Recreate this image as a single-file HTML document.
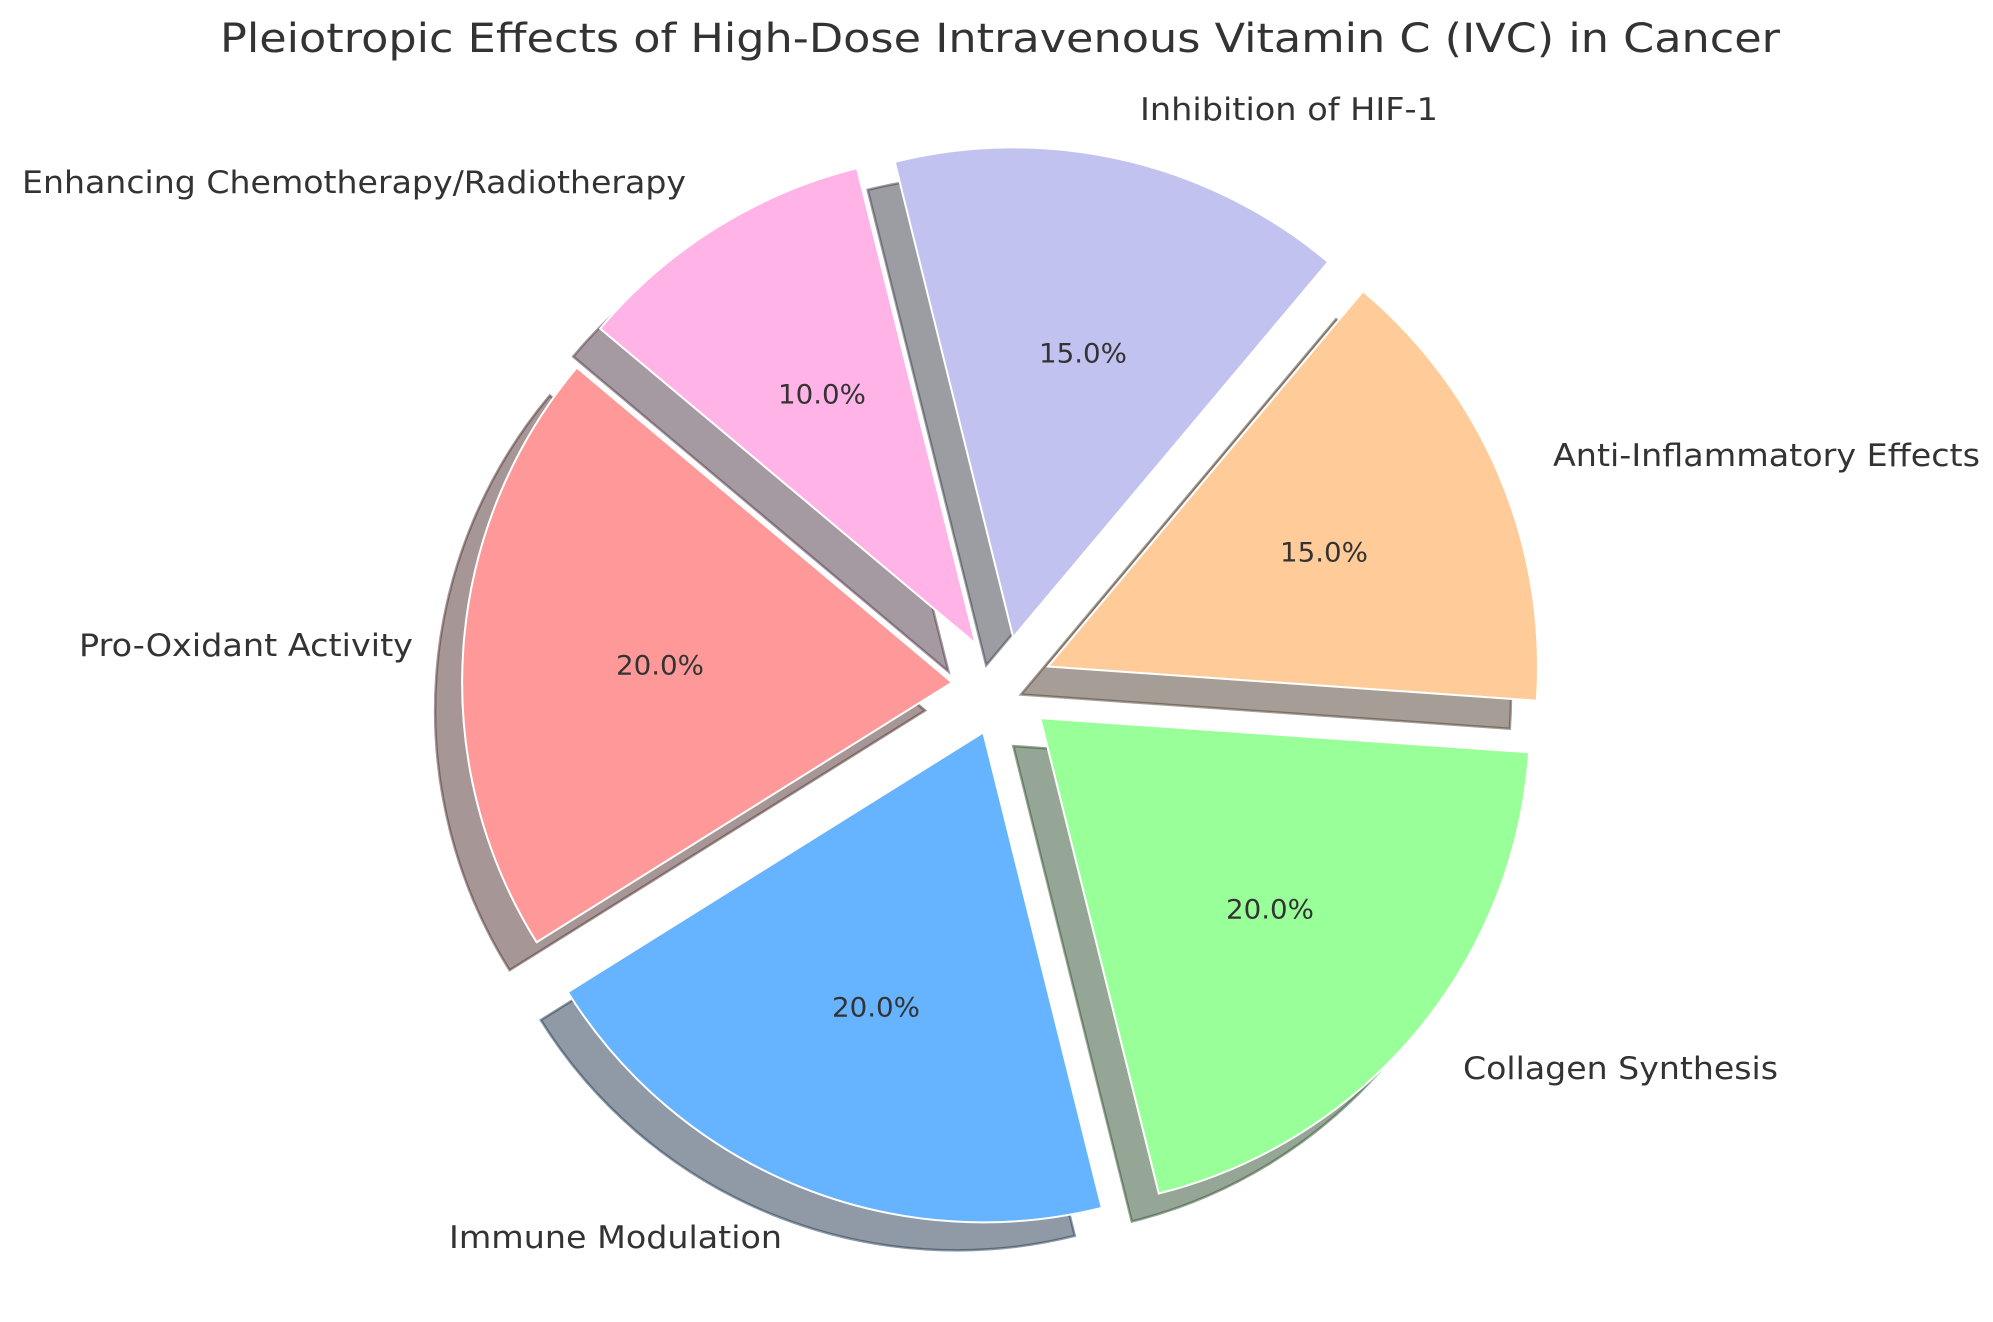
<!DOCTYPE html>
<html><head><meta charset="utf-8"><style>
html,body{margin:0;padding:0;background:#fff;}
svg{display:block;}
text{font-family:"DejaVu Sans","Liberation Sans",sans-serif;fill:#333;}
</style></head><body>
<svg width="1993" height="1322" viewBox="0 0 1993 1322" xmlns="http://www.w3.org/2000/svg">
<rect width="1993" height="1322" fill="#fff"/>
<g transform="translate(-27,28)" stroke-width="2.5">
<path d="M952.1,682.5 L576.8,367.5 A490,490 0 0 0 536.6,942.2 Z" fill="rgb(77,46,46)" fill-opacity="0.5" stroke="rgb(77,46,46)" stroke-opacity="0.5"/>
<path d="M983.3,732.4 L567.8,992.1 A490,490 0 0 0 1101.8,1207.8 Z" fill="rgb(31,54,77)" fill-opacity="0.5" stroke="rgb(31,54,77)" stroke-opacity="0.5"/>
<path d="M1040.3,718.1 L1158.8,1193.5 A490,490 0 0 0 1529.1,752.3 Z" fill="rgb(46,77,46)" fill-opacity="0.5" stroke="rgb(46,77,46)" stroke-opacity="0.5"/>
<path d="M1048,666.5 L1536.8,700.7 A490,490 0 0 0 1363,291.2 Z" fill="rgb(77,61,46)" fill-opacity="0.5" stroke="rgb(77,61,46)" stroke-opacity="0.5"/>
<path d="M1013.2,637.3 L1328.2,262 A490,490 0 0 0 894.7,161.9 Z" fill="rgb(58,58,72)" fill-opacity="0.5" stroke="rgb(58,58,72)" stroke-opacity="0.5"/>
<path d="M975.5,643.6 L857,168.2 A490,490 0 0 0 600.2,328.6 Z" fill="rgb(77,54,69)" fill-opacity="0.5" stroke="rgb(77,54,69)" stroke-opacity="0.5"/>
</g>
<g stroke="#fff" stroke-width="2">
<path d="M952.1,682.5 L576.8,367.5 A490,490 0 0 0 536.6,942.2 Z" fill="#ff9999"/>
<path d="M983.3,732.4 L567.8,992.1 A490,490 0 0 0 1101.8,1207.8 Z" fill="#66b3ff"/>
<path d="M1040.3,718.1 L1158.8,1193.5 A490,490 0 0 0 1529.1,752.3 Z" fill="#99ff99"/>
<path d="M1048,666.5 L1536.8,700.7 A490,490 0 0 0 1363,291.2 Z" fill="#ffcc99"/>
<path d="M1013.2,637.3 L1328.2,262 A490,490 0 0 0 894.7,161.9 Z" fill="#c2c2f0"/>
<path d="M975.5,643.6 L857,168.2 A490,490 0 0 0 600.2,328.6 Z" fill="#ffb3e6"/>
</g>
<text x="1000" y="52" text-anchor="middle" font-size="40" textLength="1560" lengthAdjust="spacingAndGlyphs">Pleiotropic Effects of High-Dose Intravenous Vitamin C (IVC) in Cancer</text>
<g font-size="31" dominant-baseline="central">
<text x="413" y="646" text-anchor="end" textLength="334" lengthAdjust="spacingAndGlyphs">Pro-Oxidant Activity</text>
<text x="782" y="1238" text-anchor="end" textLength="333" lengthAdjust="spacingAndGlyphs">Immune Modulation</text>
<text x="1463" y="1069" text-anchor="start" textLength="315" lengthAdjust="spacingAndGlyphs">Collagen Synthesis</text>
<text x="1553" y="456" text-anchor="start" textLength="427" lengthAdjust="spacingAndGlyphs">Anti-Inflammatory Effects</text>
<text x="1140" y="110" text-anchor="start" textLength="298" lengthAdjust="spacingAndGlyphs">Inhibition of HIF-1</text>
<text x="686" y="183" text-anchor="end" textLength="664" lengthAdjust="spacingAndGlyphs">Enhancing Chemotherapy/Radiotherapy</text>
</g>
<g font-size="27" text-anchor="middle" dominant-baseline="central">
<text x="660" y="666" textLength="88" lengthAdjust="spacingAndGlyphs">20.0%</text>
<text x="876" y="1008" textLength="88" lengthAdjust="spacingAndGlyphs">20.0%</text>
<text x="1270" y="910" textLength="88" lengthAdjust="spacingAndGlyphs">20.0%</text>
<text x="1324" y="553" textLength="88" lengthAdjust="spacingAndGlyphs">15.0%</text>
<text x="1083" y="354" textLength="88" lengthAdjust="spacingAndGlyphs">15.0%</text>
<text x="822" y="395" textLength="88" lengthAdjust="spacingAndGlyphs">10.0%</text>
</g>
</svg>
</body></html>
